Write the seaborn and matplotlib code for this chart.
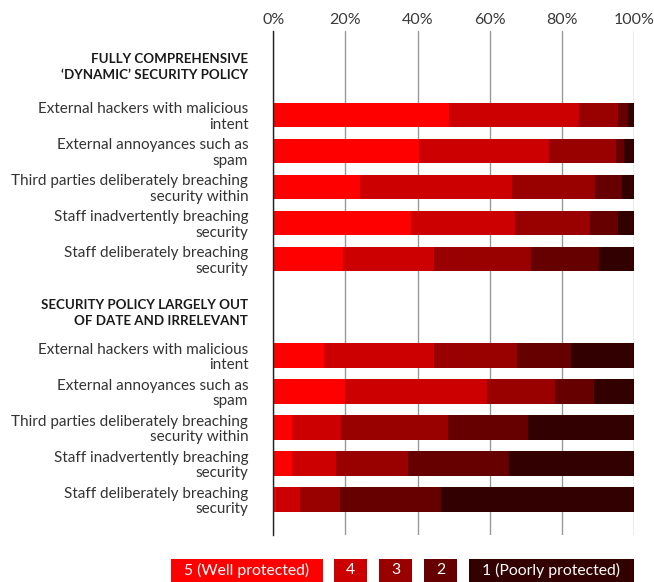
import matplotlib
matplotlib.use("Agg")
import matplotlib.pyplot as plt
from matplotlib.patches import Rectangle
import numpy as np
import pandas as pd
import seaborn as sns

# ---- data -----------------------------------------------------------------
threats = [
    "External hackers with malicious\nintent",
    "External annoyances such as\nspam",
    "Third parties deliberately breaching\nsecurity within",
    "Staff inadvertently breaching\nsecurity",
    "Staff deliberately breaching\nsecurity",
]
groups = [
    "FULLY COMPREHENSIVE\n\u2018DYNAMIC\u2019 SECURITY POLICY",
    "SECURITY POLICY LARGELY OUT\nOF DATE AND IRRELEVANT",
]
levels = ["5 (Well protected)", "4", "3", "2", "1 (Poorly protected)"]

# share of respondents (%) per rating, one list per level, threats in order
dynamic_5 = [48.7, 40.4, 24.0, 38.2, 19.3]
dynamic_4 = [36.0, 35.9, 42.2, 28.8, 25.2]
dynamic_3 = [10.8, 18.7, 23.0, 20.8, 26.9]
dynamic_2 = [2.8, 2.1, 7.5, 7.8, 18.9]
dynamic_1 = [1.7, 2.9, 3.3, 4.4, 9.7]

outdated_5 = [14.0, 19.9, 5.2, 5.2, 0.7]
outdated_4 = [30.5, 39.3, 13.6, 12.2, 6.7]
outdated_3 = [23.2, 18.9, 29.6, 19.9, 11.1]
outdated_2 = [14.8, 10.8, 22.2, 28.0, 28.0]
outdated_1 = [17.5, 11.1, 29.4, 34.7, 53.5]

xticks = [0, 20, 40, 60, 80, 100]
xtick_labels = ["0%", "20%", "40%", "60%", "80%", "100%"]

colors = ["#FF0000", "#CC0000", "#990000", "#660000", "#330000"]

# ---- layout (row units, top of axes = 0) -----------------------------------
group_first_row = [2.333, 9.014]
header_rows = [0.917, 7.75]

rows = []
for g, (start, vals) in enumerate(zip(group_first_row, [
        [dynamic_5, dynamic_4, dynamic_3, dynamic_2, dynamic_1],
        [outdated_5, outdated_4, outdated_3, outdated_2, outdated_1]])):
    for i, label in enumerate(threats):
        rec = {"group": groups[g], "threat": label, "pos": start + i}
        for lv, series in zip(levels, vals):
            rec[lv] = series[i]
        rows.append(rec)
df = pd.DataFrame(rows)

# cumulative right edge of each rating segment (5 leftmost)
cum = df[levels].cumsum(axis=1)

sns.set_theme(style="white")
plt.rcParams["font.family"] = ["Lato", "DejaVu Sans"]

W, H = 654, 582
fig = plt.figure(figsize=(W / 100, H / 100), dpi=100)
ax = fig.add_axes([273.3 / W, 1 - 535 / H, (634 - 273.3) / W, (535 - 31) / H])

# draw from the longest cumulative bar down so shorter ones sit on top
for lv, col in reversed(list(zip(levels, colors))):
    plot_df = pd.DataFrame({"value": cum[lv], "pos": df["pos"]})
    sns.barplot(data=plot_df, x="value", y="pos", orient="y", native_scale=True,
                color=col, saturation=1, width=0.69, errorbar=None,
                linewidth=0, ax=ax)

ax.set_xlim(0, 100)
ax.set_ylim(14, 0)
ax.set_xlabel("")
ax.set_ylabel("")

# x axis on top with percentage labels
ax.xaxis.tick_top()
ax.set_xticks(xticks)
ax.set_xticklabels(xtick_labels, fontsize=11.5, color="#3a3a3a")
ax.tick_params(axis="x", length=0, pad=3)
ax.grid(axis="x", color="#999999", linewidth=1.0)
ax.grid(axis="y", visible=False)
ax.set_axisbelow(True)

# y labels: group headers (bold) plus threat rows
ytick_pos = list(header_rows) + list(df["pos"])
ytick_lab = list(groups) + list(df["threat"])
ax.set_yticks(ytick_pos)
ax.set_yticklabels(ytick_lab, fontsize=11, color="#333333", linespacing=1.1)
for t in ax.get_yticklabels()[:len(groups)]:
    t.set_fontweight("bold")
    t.set_fontsize(9.6)
    t.set_color("#1a1a1a")
    t.set_linespacing(1.4)
ax.tick_params(axis="y", length=0, pad=18)

for s in ["top", "right", "bottom"]:
    ax.spines[s].set_visible(False)
ax.spines["left"].set_color("#222222")
ax.spines["left"].set_linewidth(1.0)

# legend as coloured boxes along the bottom
legend_boxes = [(171, 323), (334, 367), (379, 412), (424, 457), (469, 634)]
box_top, box_bottom = 559, 582
for (x0, x1), lv, col in zip(legend_boxes, levels, colors):
    fig.add_artist(Rectangle((x0 / W, 1 - box_bottom / H), (x1 - x0) / W,
                             (box_bottom - box_top) / H, transform=fig.transFigure,
                             facecolor=col, edgecolor="none"))
    fig.text((x0 + x1) / 2 / W, 1 - (box_top + box_bottom) / 2 / H, lv,
             ha="center", va="center", color="white", fontsize=11.3)

fig.savefig("out.png", dpi=100)
